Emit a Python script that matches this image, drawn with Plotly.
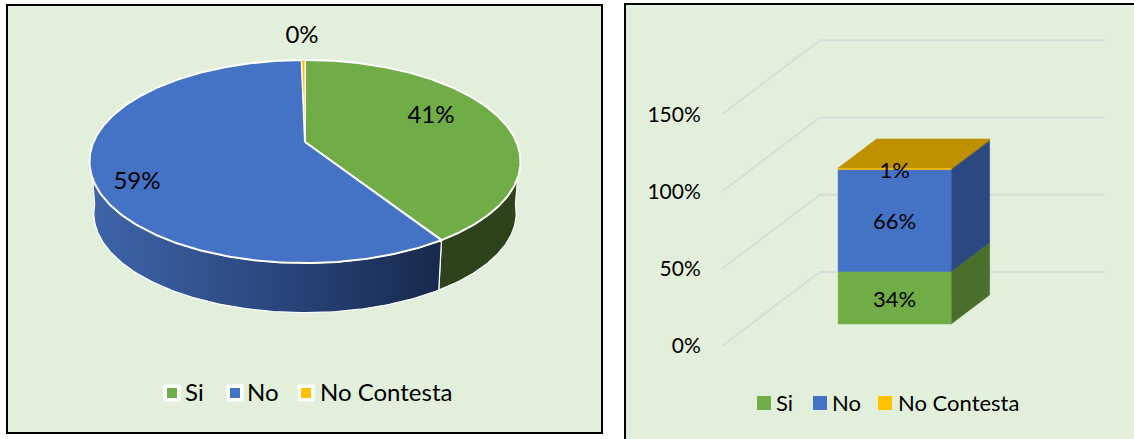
import numpy as np
import plotly.graph_objects as go

# data
labels = ['Si', 'No', 'No Contesta']
pie_values = [40.9, 58.8, 0.3]
bar_values = [34, 66, 1]
bar_ticks = [0, 50, 100, 150]
bar_tick_labels = ['0%', '50%', '100%', '150%']

# colours
BG = '#E2EFDA'
FACE = ['#70AD47', '#4472C4', '#FFC000']
BAR_SIDE = ['#4A6E2B', '#2B4880', '#A07800']
BAR_TOP = '#BF9000'
GRID = '#D7DDD6'
FONT = 'Lato'
W, H = 1134, 439

# pie perspective, in pixels of the left panel
CX, CY = 305, 142
PIE_A, PIE_B, PIE_K = 211.5, 97.8, 0.192
PIE_DEPTH, PIE_SHRINK = 52, 0.98
PIE_LABEL_XY = [(431, 117), (137, 183), (302, 37)]
PIE_LEGEND_MARK = [172, 235, 306]
PIE_LEGEND_TEXT = [185, 247, 320]
PIE_LEGEND_Y = 393

# oblique bar projection
PX_PER_PCT = 1.545
WALL_DX, WALL_DY = 98, 74
BAR_X, BAR_W = 87, 113
BAR_T0, BAR_T1 = 0.297, 0.69
WALL_LEN = 383
BAR_LEGEND_MARK = [764, 820, 885]
BAR_LEGEND_TEXT = [776, 832, 898]
BAR_LEGEND_Y = 403


def rim(theta, scale=1.0, drop=0.0):
    u, v = np.sin(theta), np.cos(theta)
    d = 1 + PIE_K * v
    return CX + scale * PIE_A * u / d, CY - scale * PIE_B * v / d + drop


def project(x, t, pct):
    # x along the front, t into the depth, pct up the wall
    return x + t * WALL_DX, pct + t * WALL_DY / PX_PER_PCT


fig = go.Figure()

# pie: slice limits come from the values
edges = np.cumsum([0] + pie_values) / sum(pie_values) * 2 * np.pi

gradients = [None,
             dict(type='horizontal', colorscale=[[0, '#3E65AA'], [0.5, '#2B4880'], [1, '#17294D']]),
             None]
side_flat = ['#2C431C', '#2B4880', '#A07800']
for i in range(3):
    th = np.linspace(edges[i], edges[i + 1], 240)
    th = th[np.cos(th) < -0.1]
    if len(th) < 2:
        continue
    tx, ty = rim(th)
    bx, by = rim(th, PIE_SHRINK, PIE_DEPTH)
    extra = dict(fillgradient=gradients[i]) if gradients[i] else dict(fillcolor=side_flat[i])
    fig.add_trace(go.Scatter(x=np.r_[tx, bx[::-1], tx[0]], y=np.r_[ty, by[::-1], ty[0]],
                             mode='lines', fill='toself', line=dict(color='white', width=1.2),
                             hoverinfo='skip', showlegend=False, **extra))

for i in range(3):
    th = np.linspace(edges[i], edges[i + 1], 240)
    tx, ty = rim(th)
    fig.add_trace(go.Scatter(x=np.r_[CX, tx, CX], y=np.r_[CY, ty, CY], mode='lines', fill='toself',
                             fillcolor=FACE[i], line=dict(color='white', width=2 if i < 2 else 1),
                             name=labels[i], hoverinfo='name', showlegend=False))

pcts = [f'{round(v / sum(pie_values) * 100)}%' for v in pie_values]
fig.add_trace(go.Scatter(x=[p[0] for p in PIE_LABEL_XY], y=[p[1] for p in PIE_LABEL_XY], mode='text',
                         text=pcts, textfont=dict(family=FONT, size=24, color='black'),
                         hoverinfo='skip', showlegend=False))

# legend of the pie
fig.add_trace(go.Scatter(x=PIE_LEGEND_MARK, y=[PIE_LEGEND_Y] * 3, mode='markers',
                         marker=dict(symbol='square', size=17, color='white'),
                         hoverinfo='skip', showlegend=False))
fig.add_trace(go.Scatter(x=PIE_LEGEND_MARK, y=[PIE_LEGEND_Y] * 3, mode='markers',
                         marker=dict(symbol='square', size=10, color=FACE),
                         hoverinfo='skip', showlegend=False))
fig.add_trace(go.Scatter(x=PIE_LEGEND_TEXT, y=[PIE_LEGEND_Y + 2] * 3, mode='text', text=labels,
                         textposition='middle right', textfont=dict(family=FONT, size=24, color='black'),
                         hoverinfo='skip', showlegend=False))

# walls of the bar chart
for v in bar_ticks:
    x0, y0 = project(0, 0, v)
    x1, y1 = project(0, 1, v)
    fig.add_trace(go.Scatter(x=[x0, x1, WALL_LEN], y=[y0, y1, y1], mode='lines', xaxis='x2', yaxis='y2',
                             line=dict(color=GRID, width=2), hoverinfo='skip', showlegend=False))


def face(points, color):
    xs = [p[0] for p in points] + [points[0][0]]
    ys = [p[1] for p in points] + [points[0][1]]
    fig.add_trace(go.Scatter(x=xs, y=ys, mode='lines', fill='toself', fillcolor=color, xaxis='x2', yaxis='y2',
                             line=dict(color=color, width=0.5), hoverinfo='skip', showlegend=False))


# stacked box
bottoms = np.cumsum([0] + bar_values)
xl, xr = BAR_X, BAR_X + BAR_W
for i in range(3):
    lo, hi = bottoms[i], bottoms[i + 1]
    face([project(xr, BAR_T0, lo), project(xr, BAR_T1, lo), project(xr, BAR_T1, hi), project(xr, BAR_T0, hi)], BAR_SIDE[i])
    face([project(xl, BAR_T0, lo), project(xr, BAR_T0, lo), project(xr, BAR_T0, hi), project(xl, BAR_T0, hi)], FACE[i])
top = bottoms[-1]
face([project(xl, BAR_T0, top), project(xr, BAR_T0, top), project(xr, BAR_T1, top), project(xl, BAR_T1, top)], BAR_TOP)

mid = [project(xl + BAR_W / 2, BAR_T0, (bottoms[i] + bottoms[i + 1]) / 2) for i in range(3)]
fig.add_trace(go.Scatter(x=[m[0] for m in mid], y=[m[1] - 2.2 for m in mid], mode='text', xaxis='x2', yaxis='y2',
                         text=[f'{v}%' for v in bar_values], textfont=dict(family=FONT, size=22, color='black'),
                         hoverinfo='skip', showlegend=False))

# legend of the bars, placed in full-page pixel axes
fig.add_trace(go.Scatter(x=BAR_LEGEND_MARK, y=[BAR_LEGEND_Y] * 3, mode='markers', xaxis='x3', yaxis='y3',
                         marker=dict(symbol='square', size=14, color=FACE),
                         hoverinfo='skip', showlegend=False))
fig.add_trace(go.Scatter(x=BAR_LEGEND_TEXT, y=[BAR_LEGEND_Y + 2] * 3, mode='text', xaxis='x3', yaxis='y3', text=labels,
                         textposition='middle right', textfont=dict(family=FONT, size=22, color='black'),
                         hoverinfo='skip', showlegend=False))

hidden = dict(visible=False, fixedrange=True)
fig.update_layout(
    width=W, height=H, margin=dict(l=0, r=0, t=0, b=0),
    paper_bgcolor='white', plot_bgcolor='rgba(0,0,0,0)',
    showlegend=False,
    xaxis=dict(domain=[0, 1], range=[0, W], **hidden),
    yaxis=dict(domain=[0, 1], range=[H, 0], **hidden),
    xaxis3=dict(domain=[0, 1], range=[0, W], overlaying='x', **hidden),
    yaxis3=dict(domain=[0, 1], range=[H, 0], overlaying='y', **hidden),
    xaxis2=dict(domain=[722 / W, 1105 / W], range=[0, WALL_LEN], **hidden),
    yaxis2=dict(domain=[0, 1], anchor='x2', range=[-(H - 346) / PX_PER_PCT, 346 / PX_PER_PCT],
                tickmode='array', tickvals=bar_ticks, ticktext=bar_tick_labels,
                tickfont=dict(family=FONT, size=21, color='black'),
                ticks='outside', ticklen=16, tickcolor='rgba(0,0,0,0)',
                showgrid=False, zeroline=False, showline=False, fixedrange=True),
    shapes=[
        dict(type='rect', xref='paper', yref='paper', x0=7 / W, x1=602 / W, y0=1 - 433 / H, y1=1 - 5 / H,
             fillcolor=BG, line=dict(color='black', width=2), layer='below'),
        dict(type='rect', xref='paper', yref='paper', x0=625 / W, x1=1.02, y0=-0.02, y1=1 - 4 / H,
             fillcolor=BG, line=dict(color='black', width=2), layer='below'),
    ],
)

fig.write_html("out.html", post_script="document.body.style.margin='0';", config=dict(displayModeBar=False))
